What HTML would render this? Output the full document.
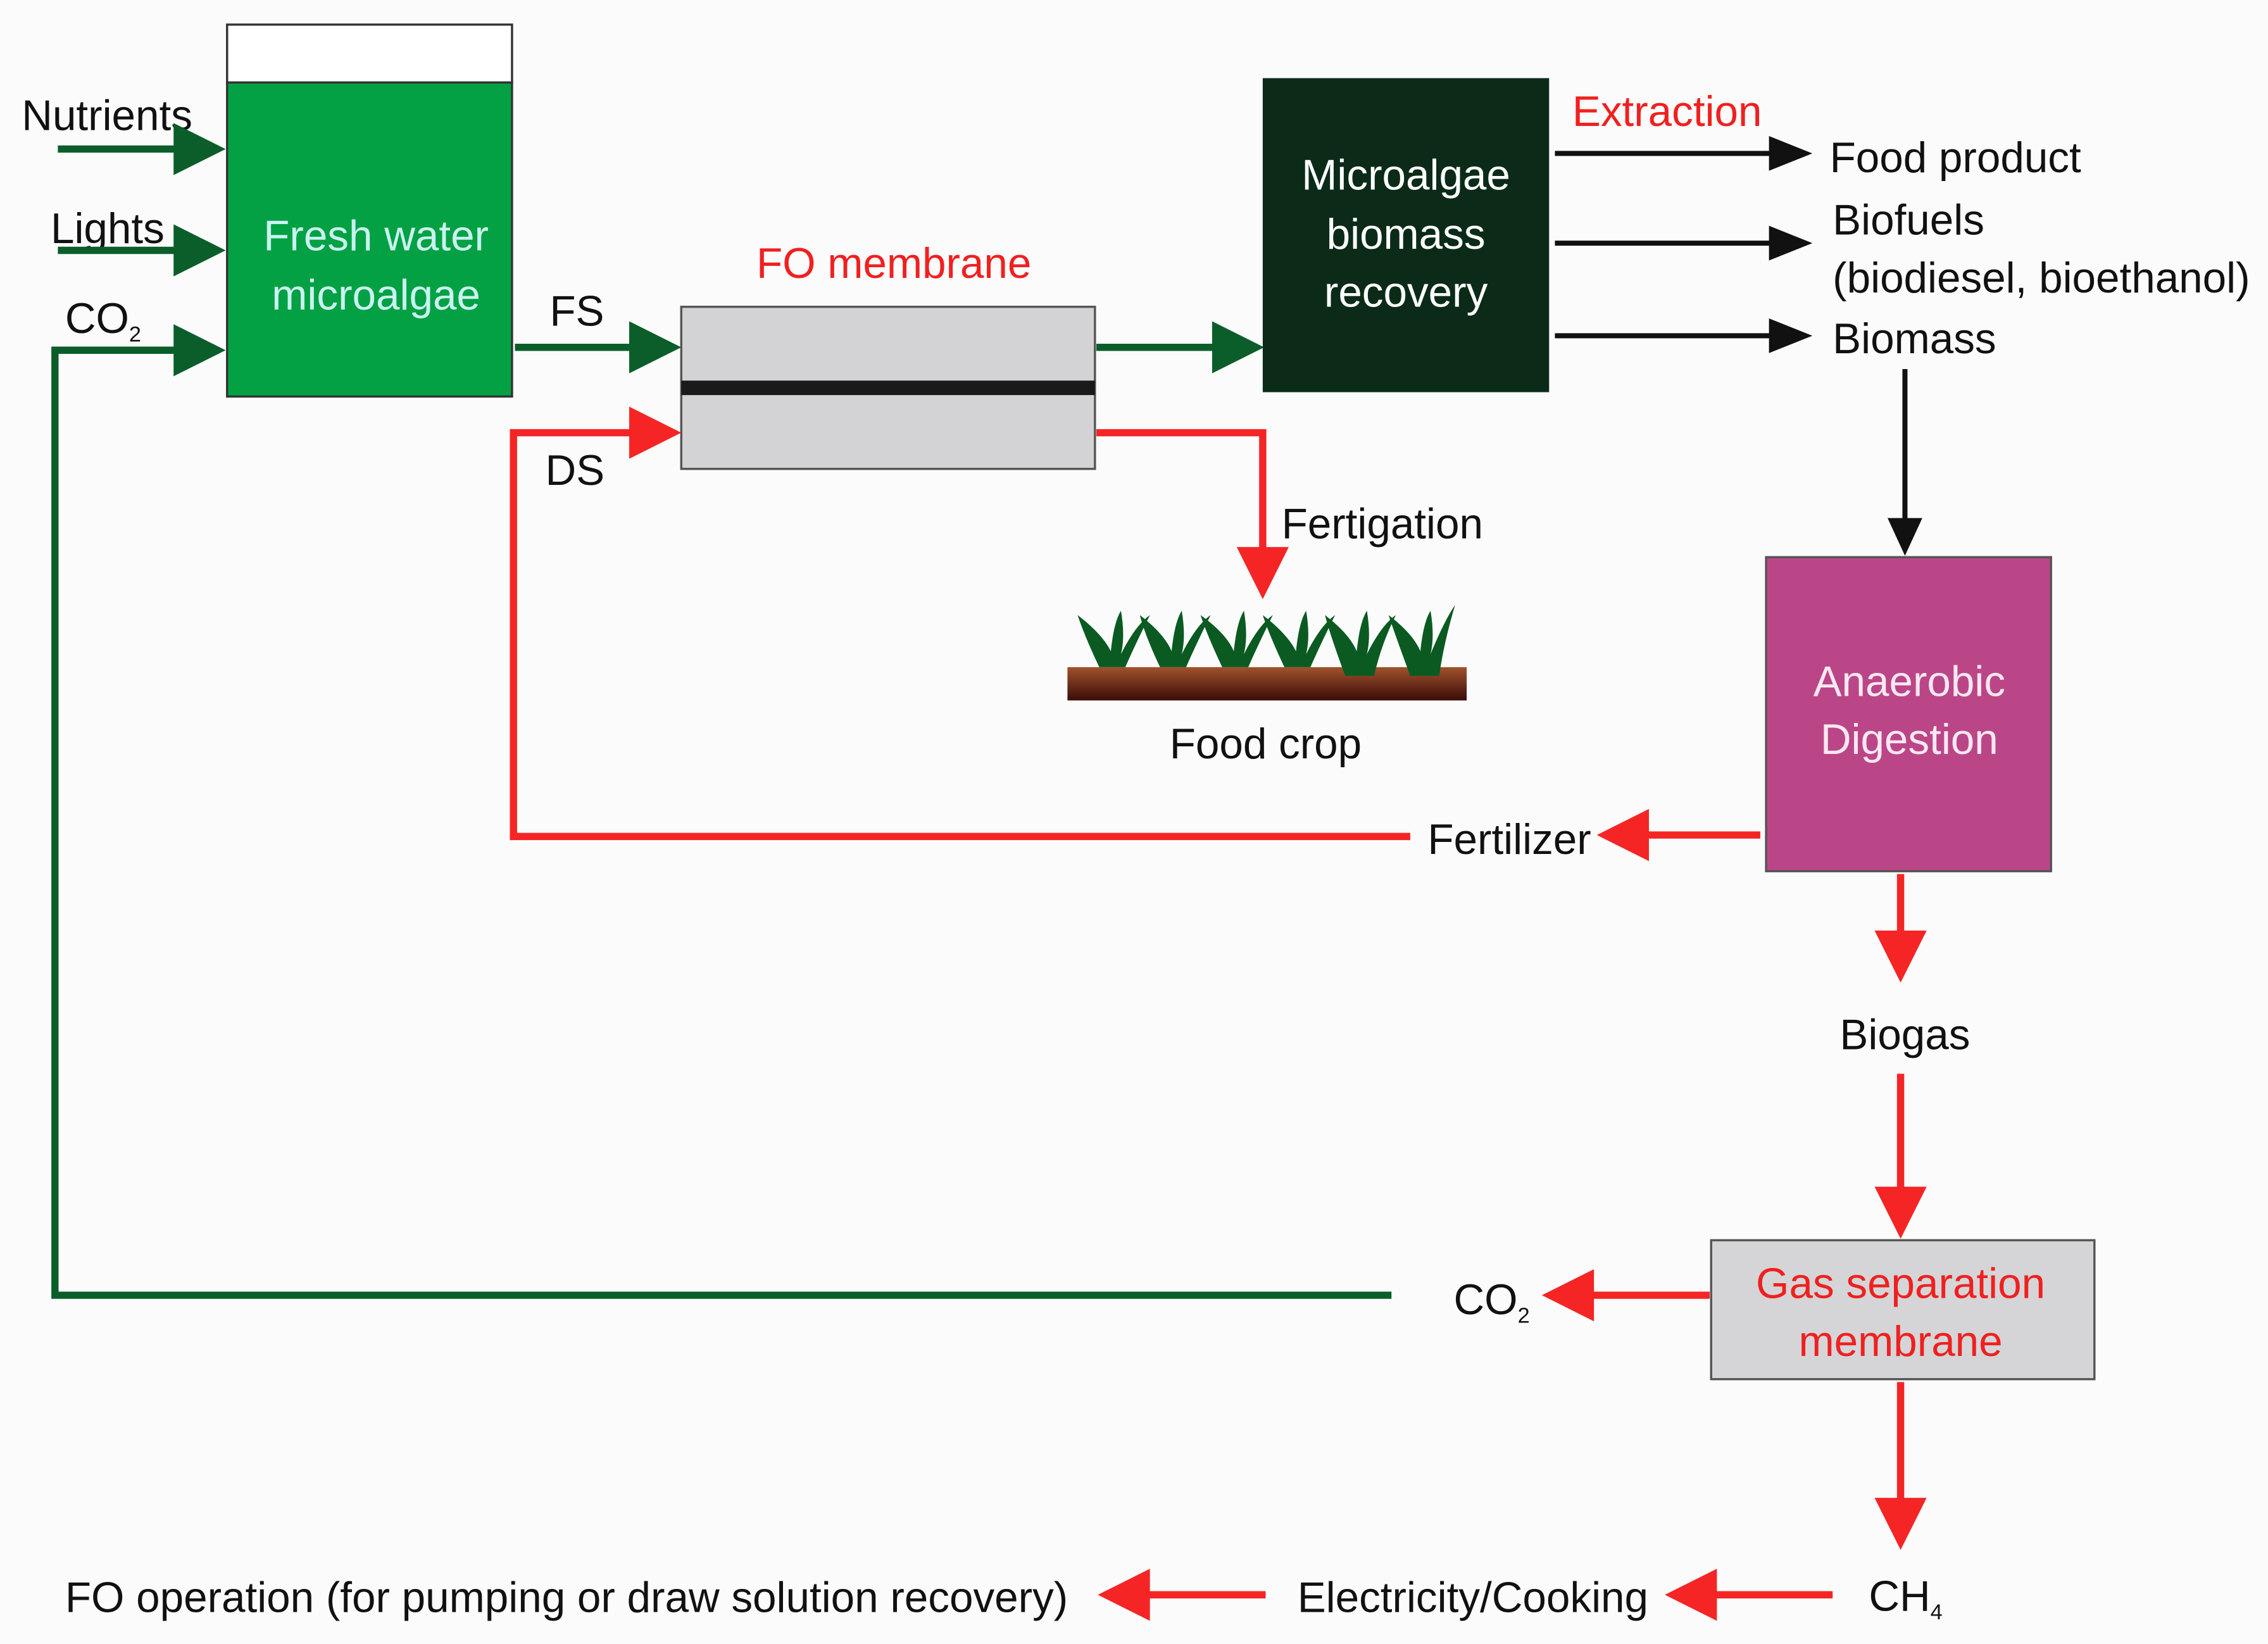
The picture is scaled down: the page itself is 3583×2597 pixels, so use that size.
<!DOCTYPE html>
<html><head><meta charset="utf-8"><style>
html,body{margin:0;padding:0;background:#fbfbfb;}
svg{display:block;}
text{font-family:"Liberation Sans",sans-serif;font-size:29.5px;}
</style></head><body>
<svg width="3583" height="2597" viewBox="0 0 1568 1136" preserveAspectRatio="none" xmlns="http://www.w3.org/2000/svg">
<defs>
<linearGradient id="soil" x1="0" y1="0" x2="0" y2="1"><stop offset="0" stop-color="#a0522d"/><stop offset="1" stop-color="#3a0d08"/></linearGradient>
</defs>
<rect width="1568" height="1136" fill="#fbfbfb"/>
<rect x="157" y="17" width="197" height="40" fill="#fff" stroke="#333" stroke-width="1.5"/>
<rect x="157" y="57" width="197" height="217" fill="#03a143" stroke="#333" stroke-width="1.5"/>
<text x="260" y="173" text-anchor="middle" fill="#c9f3f0">Fresh water</text>
<text x="260" y="214" text-anchor="middle" fill="#c9f3f0">microalgae</text>
<text x="15" y="90" fill="#111">Nutrients</text>
<text x="35" y="168" fill="#111">Lights</text>
<text x="45" y="230" fill="#111">CO<tspan font-size="15" dy="6">2</tspan></text>
<g stroke="#0b5e2a" stroke-width="5" fill="none">
<line x1="40" y1="103" x2="122" y2="103"/>
<line x1="40" y1="173" x2="122" y2="173"/>
<polyline points="962,895 38,895 38,242 122,242"/>
<line x1="356" y1="240" x2="437" y2="240"/>
<line x1="758" y1="240" x2="840" y2="240"/>
</g>
<g fill="#0b5e2a">
<polygon points="120,85 156,103 120,121"/>
<polygon points="120,155 156,173 120,191"/>
<polygon points="120,224 156,242 120,260"/>
<polygon points="435,222 471,240 435,258"/>
<polygon points="838,222 874,240 838,258"/>
</g>
<text x="380" y="225" fill="#111">FS</text>
<text x="377" y="335" fill="#111">DS</text>
<text x="618" y="192" text-anchor="middle" fill="#f02020">FO membrane</text>
<rect x="471" y="212" width="286" height="112" fill="#d3d3d5" stroke="#555" stroke-width="1.5"/>
<rect x="471" y="263" width="286" height="10" fill="#1a1a1a"/>
<g stroke="#f52525" stroke-width="5" fill="none">
<polyline points="975,578 355,578 355,299 437,299"/>
<polyline points="758,299 873,299 873,380"/>
<line x1="1217" y1="577" x2="1138" y2="577"/>
<line x1="1314" y1="604" x2="1314" y2="645"/>
<line x1="1314" y1="742" x2="1314" y2="822"/>
<line x1="1182" y1="895" x2="1100" y2="895"/>
<line x1="1314" y1="955" x2="1314" y2="1037"/>
<line x1="1267" y1="1102" x2="1185" y2="1102"/>
<line x1="875" y1="1102" x2="793" y2="1102"/>
</g>
<g fill="#f52525">
<polygon points="435,281 471,299 435,317"/>
<polygon points="855,378 873,414 891,378"/>
<polygon points="1140,559 1104,577 1140,595"/>
<polygon points="1296,643 1314,679 1332,643"/>
<polygon points="1296,820 1314,856 1332,820"/>
<polygon points="1102,877 1066,895 1102,913"/>
<polygon points="1296,1035 1314,1071 1332,1035"/>
<polygon points="1187,1084 1151,1102 1187,1120"/>
<polygon points="795,1084 759,1102 795,1120"/>
</g>
<rect x="873" y="54" width="198" height="217" fill="#0b2b18"/>
<text x="972" y="131" text-anchor="middle" fill="#fff">Microalgae</text>
<text x="972" y="172" text-anchor="middle" fill="#fff">biomass</text>
<text x="972" y="212" text-anchor="middle" fill="#fff">recovery</text>
<text x="1087" y="87" fill="#f02020">Extraction</text>
<g stroke="#111" stroke-width="3.5">
<line x1="1075" y1="106" x2="1225" y2="106"/>
<line x1="1075" y1="168" x2="1225" y2="168"/>
<line x1="1075" y1="232" x2="1225" y2="232"/>
<line x1="1317" y1="255" x2="1317" y2="360"/>
</g>
<g fill="#111">
<polygon points="1223,94 1253,106 1223,118"/>
<polygon points="1223,156 1253,168 1223,180"/>
<polygon points="1223,220 1253,232 1223,244"/>
<polygon points="1305,358 1317,384 1329,358"/>
</g>
<text x="1265" y="119" fill="#111">Food product</text>
<text x="1267" y="162" fill="#111">Biofuels</text>
<text x="1267" y="202" fill="#111">(biodiesel, bioethanol)</text>
<text x="1267" y="244" fill="#111">Biomass</text>
<text x="886" y="372" fill="#111">Fertigation</text>
<rect x="738" y="461" width="276" height="23" fill="url(#soil)"/>
<g fill="#0a5a22">
<path d="M760,461 Q750,440 745,425 Q762,438 768,450 Q770,430 775,422 Q778,440 775,452 Q785,432 795,425 Q785,445 778,461Z"/>
<path d="M802,461 Q792,440 788,425 Q805,438 810,450 Q812,430 817,422 Q820,440 817,452 Q827,432 837,425 Q827,445 820,461Z"/>
<path d="M845,461 Q835,440 830,425 Q848,438 853,450 Q855,430 860,422 Q863,440 860,452 Q870,432 880,425 Q870,445 863,461Z"/>
<path d="M888,461 Q878,440 873,425 Q890,438 896,450 Q898,430 903,422 Q906,440 903,452 Q913,432 923,425 Q913,445 906,461Z"/>
<path d="M930,467 Q920,440 916,425 Q933,438 938,450 Q940,430 945,422 Q948,440 945,452 Q955,432 965,425 Q955,445 950,467Z"/>
<path d="M975,467 Q965,440 960,425 Q977,438 982,450 Q984,430 989,422 Q992,440 989,452 Q999,428 1006,418 Q998,445 995,467Z"/>
</g>
<text x="875" y="524" text-anchor="middle" fill="#111">Food crop</text>
<rect x="1221" y="385" width="197" height="217" fill="#bb4687" stroke="#555" stroke-width="1.5"/>
<text x="1320" y="481" text-anchor="middle" fill="#fbe8f2">Anaerobic</text>
<text x="1320" y="521" text-anchor="middle" fill="#fbe8f2">Digestion</text>
<text x="987" y="590" fill="#111">Fertilizer</text>
<text x="1317" y="725" text-anchor="middle" fill="#111">Biogas</text>
<rect x="1183" y="857" width="265" height="96" fill="#d5d5d7" stroke="#555" stroke-width="1.5"/>
<text x="1314" y="897" text-anchor="middle" fill="#f02020">Gas separation</text>
<text x="1314" y="937" text-anchor="middle" fill="#f02020">membrane</text>
<text x="1005" y="908" fill="#111">CO<tspan font-size="15" dy="6">2</tspan></text>
<text x="1292" y="1113" fill="#111">CH<tspan font-size="15" dy="6">4</tspan></text>
<text x="897" y="1114" fill="#111">Electricity/Cooking</text>
<text x="45" y="1114" fill="#111">FO operation (for pumping or draw solution recovery)</text>
</svg>
</body></html>
